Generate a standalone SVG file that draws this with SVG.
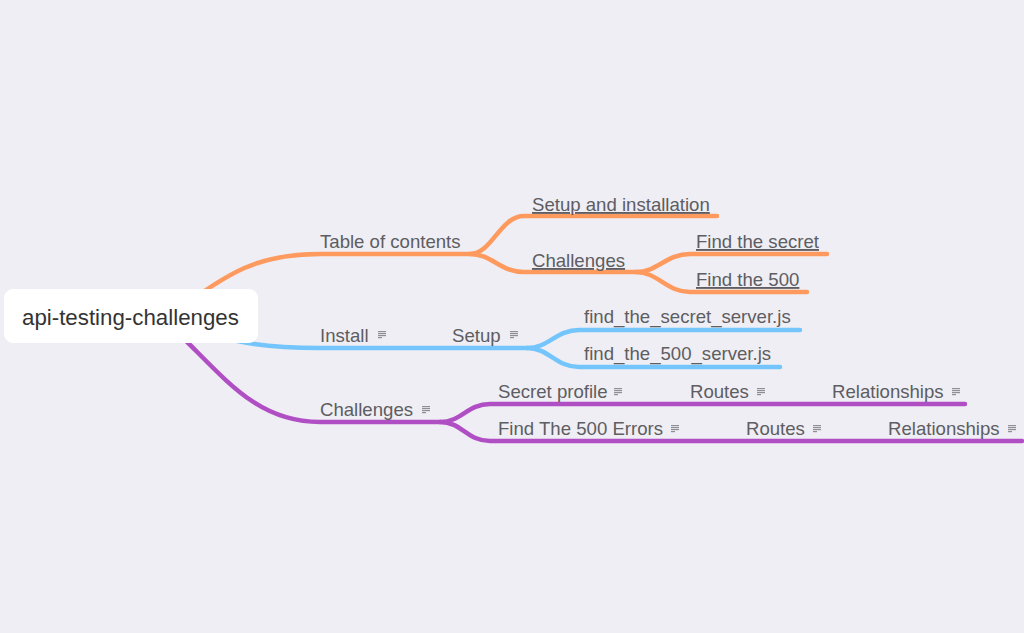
<svg xmlns="http://www.w3.org/2000/svg" width="1024" height="633" viewBox="0 0 1024 633">
<style>
.t{font-family:"Liberation Sans",Arial,Helvetica,sans-serif;font-size:18.6px;fill:#5d5d62}
.u{text-decoration:underline}
.c{fill:none;stroke-width:4.5;stroke-linecap:round;stroke-linejoin:round}
.o{stroke:#fe9a5e}.b{stroke:#74c5fb}.p{stroke:#b04fc4}
</style>
<defs>
<g id="note" fill="#8f8f95">
<rect x="0" y="0" width="8" height="1.2"/>
<rect x="0" y="2" width="8" height="1.2"/>
<rect x="0" y="4" width="8" height="1.2"/>
<rect x="0" y="6" width="4" height="1.2"/>
</g>
</defs>
<rect width="1024" height="633" fill="#efeef4"/>
<g id="connectors">
<path class="c o" d="M170 316 C230 270 260 254 320 254 H470"/>
<path class="c o" d="M470 254 C492 254 500 216 524 216 H717"/>
<path class="c o" d="M470 254 C492 254 500 272 524 272 H636"/>
<path class="c o" d="M636 272 C658 272 666 254 690 254 H827"/>
<path class="c o" d="M636 272 C658 272 666 292 690 292 H807"/>
<path class="c b" d="M170 316 C220 340 250 348 320 348 H527"/>
<path class="c b" d="M527 348 C549 348 556 330 579 330 H800"/>
<path class="c b" d="M527 348 C549 348 556 367 579 367 H780"/>
<path class="c p" d="M160 316 C220 370 250 422 320 422 H440"/>
<path class="c p" d="M440 422 C462 422 467 404 490 404 H965"/>
<path class="c p" d="M440 422 C462 422 467 441 490 441 H1022"/>
</g>
<g id="root">
<rect x="4" y="289" width="254" height="54" rx="9" fill="#ffffff"/>
<text x="22" y="325" font-family="Liberation Sans,Arial,Helvetica,sans-serif" font-size="22.3" fill="#333333">api-testing-challenges</text>
</g>
<g id="toc"><text class="t" x="320" y="248">Table of contents</text></g>
<g id="toc-setup"><text class="t u" x="532" y="211">Setup and installation</text></g>
<g id="toc-challenges"><text class="t u" x="532" y="267">Challenges</text></g>
<g id="toc-secret"><text class="t u" x="696" y="248">Find the secret</text></g>
<g id="toc-500"><text class="t u" x="696" y="286">Find the 500</text></g>
<g id="install"><text class="t" x="320" y="342">Install</text><use href="#note" x="378" y="331"/></g>
<g id="setup"><text class="t" x="452" y="342">Setup</text><use href="#note" x="510" y="331"/></g>
<g id="secret-server"><text class="t" x="584" y="323">find_the_secret_server.js</text></g>
<g id="server-500"><text class="t" x="584" y="360">find_the_500_server.js</text></g>
<g id="challenges"><text class="t" x="320" y="416">Challenges</text><use href="#note" x="422" y="406"/></g>
<g id="secret-profile"><text class="t" x="498" y="398">Secret profile</text><use href="#note" x="614" y="388"/></g>
<g id="routes-1"><text class="t" x="690" y="398">Routes</text><use href="#note" x="757" y="388"/></g>
<g id="relationships-1"><text class="t" x="832" y="398">Relationships</text><use href="#note" x="952" y="388"/></g>
<g id="find-500-errors"><text class="t" x="498" y="435">Find The 500 Errors</text><use href="#note" x="671" y="425"/></g>
<g id="routes-2"><text class="t" x="746" y="435">Routes</text><use href="#note" x="813" y="425"/></g>
<g id="relationships-2"><text class="t" x="888" y="435">Relationships</text><use href="#note" x="1008" y="425"/></g>
</svg>
